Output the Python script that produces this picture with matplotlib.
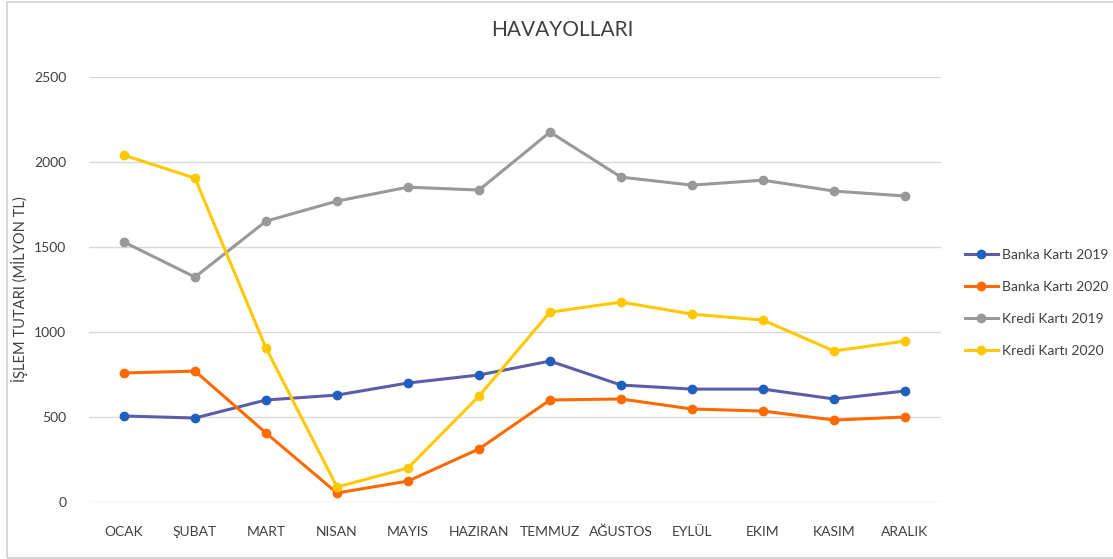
import matplotlib
matplotlib.use("Agg")
import matplotlib.pyplot as plt
from matplotlib.patches import Rectangle

plt.rcParams['font.family'] = ['Lato', 'DejaVu Sans']

# months and series (milyon TL)
months = ['OCAK', 'ŞUBAT', 'MART', 'NISAN', 'MAYIS', 'HAZIRAN', 'TEMMUZ',
          'AĞUSTOS', 'EYLÜL', 'EKIM', 'KASIM', 'ARALIK']
banka_2019 = [506, 494, 600, 629, 700, 747, 829, 688, 664, 664, 606, 653]
banka_2020 = [759, 770, 406, 53, 123, 312, 600, 606, 547, 535, 482, 500]
kredi_2019 = [1529, 1323, 1652, 1770, 1852, 1835, 2176, 1911, 1864, 1893, 1829, 1800]
kredi_2020 = [2040, 1905, 906, 88, 200, 623, 1117, 1176, 1105, 1070, 888, 947]
yticks = [0, 500, 1000, 1500, 2000, 2500]

W, H = 1113, 559
fig = plt.figure(figsize=(W / 100, H / 100), dpi=100)
ax = fig.add_axes([88.5 / W, 1 - 502 / H, (940.5 - 88.5) / W, (502 - 77) / H])

# outer chart border (right side runs off the image like in the screenshot)
fig.patches.append(Rectangle((6.5 / W, 1.5 / H), (1130 - 6.5) / W, (557.5 - 1.5) / H,
                             transform=fig.transFigure, fill=False,
                             edgecolor='#d0d0d0', linewidth=1.2, clip_on=False))

x = list(range(len(months)))
ax.plot(x, banka_2019, color='#5b5ea6', lw=2.2, marker='o', ms=6,
        mfc='#1f5fbf', mec='#1f5fbf', label='Banka Kartı 2019')
ax.plot(x, banka_2020, color='#ff6a00', lw=2.2, marker='o', ms=6,
        label='Banka Kartı 2020')
ax.plot(x, kredi_2019, color='#999999', lw=2.2, marker='o', ms=6,
        label='Kredi Kartı 2019')
ax.plot(x, kredi_2020, color='#ffc800', lw=2.2, marker='o', ms=6,
        label='Kredi Kartı 2020')

ax.set_xlim(-0.5, len(months) - 0.5)
ax.set_ylim(0, 2500)
ax.set_yticks(yticks)
ax.set_xticks(x)
ax.set_xticklabels(months)
ax.grid(axis='y', color='#d9d9d9', lw=1)
ax.set_axisbelow(True)
for s in ax.spines.values():
    s.set_visible(False)
ax.tick_params(length=0, labelsize=10, colors='#404040')
ax.tick_params(axis='x', pad=17)
ax.tick_params(axis='y', pad=16)

ax.set_ylabel('İŞLEM TUTARI (MİLYON TL)', fontsize=10.5, color='#404040', labelpad=4)
fig.text(562 / W, 1 - 30 / H, 'HAVAYOLLARI', ha='center', va='center',
         fontsize=15, color='#404040')

ax.legend(loc='center left', bbox_to_anchor=(952 / W, 1 - 303 / H),
          bbox_transform=fig.transFigure, frameon=False, fontsize=10,
          labelcolor='#404040', handlelength=2.4, labelspacing=1.45,
          handletextpad=0.3)

fig.savefig('out.png', dpi=100)
